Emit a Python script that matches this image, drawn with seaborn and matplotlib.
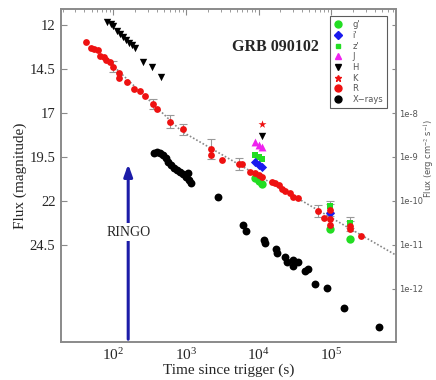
import numpy as np
import pandas as pd
import matplotlib
matplotlib.use("Agg")
import matplotlib.pyplot as plt
from matplotlib.lines import Line2D
from matplotlib.ticker import FixedLocator, NullFormatter, LogLocator, LogFormatterSciNotation
import seaborn as sns

# ---------------- data ----------------
# R band (magnitude)
r_time = [42.6, 49.3, 54.8, 60.8, 66.3, 73.6, 80.2, 88.9, 99, 118, 118, 154, 194, 235, 275,
          351, 399, 608, 910, 2210, 2210, 3130, 5300, 5890, 7660, 8970, 9970, 11100, 15200,
          16900, 18800, 20900, 23200, 27200, 30200, 35400, 66100, 79800, 95100, 95100, 95100,
          182000, 182000, 258000]
r_mag = [12.98, 13.32, 13.36, 13.42, 13.74, 13.84, 13.99, 14.12, 14.37, 14.71, 15.03, 15.22,
         15.65, 15.78, 16.02, 16.49, 16.79, 17.49, 17.93, 19.05, 19.39, 19.67, 19.91, 19.91,
         20.34, 20.43, 20.52, 20.62, 20.90, 20.96, 21.09, 21.32, 21.43, 21.56, 21.79, 21.85,
         22.55, 22.98, 23.02, 22.50, 23.36, 23.42, 23.61, 23.97]
r_err = [0, 0, 0, 0, 0, 0, 0, 0, 0.3, 0, 0, 0, 0, 0, 0, 0.3, 0, 0.35, 0.3, 0.55, 0, 0, 0.35, 0,
         0, 0, 0, 0, 0, 0, 0, 0, 0, 0, 0, 0, 0.35, 0, 0, 0.35, 0, 0.3, 0, 0]

# H band (magnitude)
h_time = [83, 94, 100, 113, 125, 137, 151, 166, 182, 201, 258, 344, 457, 11100]
h_mag = [11.83, 11.94, 12.06, 12.34, 12.51, 12.68, 12.85, 13.02, 13.14, 13.31, 14.10, 14.39,
         14.95, 18.31]

# K, J, i', z', g'
k_time = [11100]
k_mag = [17.63]
j_time = [8970, 9970, 11100]
j_mag = [18.66, 18.82, 18.95]
i_time = [8970, 9970, 11100, 95100]
i_mag = [19.80, 19.95, 20.09, 22.66]
z_time = [8970, 9970, 11100, 95100, 182000]
z_mag = [19.39, 19.48, 19.63, 22.30, 23.23]
z_err = [0, 0, 0, 0.3, 0.3]
g_time = [8970, 9970, 11100, 95100, 182000]
g_mag = [20.71, 20.85, 21.03, 23.61, 24.18]

# X-rays (flux, erg cm^-2 s^-1)
x_time = [366, 403, 443, 488, 536, 571, 628, 690, 759, 836, 918, 1009, 1109, 1183, 1076,
          2780, 6140, 6745, 11940, 12330, 17460, 18030, 23230, 24720, 29920, 29920, 35080,
          43750, 48080, 59980, 87900, 148250, 448700]
x_flux = [1.233e-9, 1.30e-9, 1.233e-9, 1.109e-9, 9.48e-10, 7.69e-10, 6.58e-10, 5.62e-10,
          5.07e-10, 4.56e-10, 4.11e-10, 3.51e-10, 3.00e-10, 2.56e-10, 4.33e-10, 1.23e-10,
          2.85e-11, 2.08e-11, 1.30e-11, 1.11e-11, 8.11e-12, 6.58e-12, 5.33e-12, 4.11e-12,
          4.56e-12, 3.33e-12, 4.11e-12, 2.56e-12, 2.85e-12, 1.30e-12, 1.05e-12, 3.76e-13,
          1.37e-13]

# broken power-law fit (R band)
fit_t0, fit_m0 = 875.0, 18.05
fit_slope1, fit_slope2 = 3.94, 2.38  # mag per decade
fit_tmin, fit_tmax = 80.0, 8.0e5

mag_ticks = [12, 14.5, 17, 19.5, 22, 24.5]
flux_ticks = [1e-8, 1e-9, 1e-10, 1e-11, 1e-12]
flux_tick_labels = ["1e-8", "1e-9", "1e-10", "1e-11", "1e-12"]

ringo_time = 160

# ---------------- style ----------------
sns.set_style("white")
plt.rcParams["font.family"] = ["Liberation Serif", "DejaVu Serif"]
plt.rcParams["mathtext.fontset"] = "stix"

fig = plt.figure(figsize=(4.36, 3.80), dpi=100)
ax = fig.add_axes([61 / 436, 1 - 342 / 380, (396 - 61) / 436, (342 - 9) / 380])
ax.set_xscale("log")
ax.set_xlim(19, 7.8e5)
ax.set_ylim(30.0, 11.1)

frame = "#8a8a8a"
for s in ax.spines.values():
    s.set_color(frame)
    s.set_linewidth(1.2)

# fit line
tt = np.logspace(np.log10(fit_tmin), np.log10(fit_tmax), 200)
lt = np.log10(tt) - np.log10(fit_t0)
mm = np.where(lt < 0, fit_m0 + fit_slope1 * lt, fit_m0 + fit_slope2 * lt)
sns.lineplot(x=tt, y=mm, ax=ax, color="#888888", linestyle=(0, (1, 1.2)), linewidth=1.2,
             zorder=1)

# error bars
r_err_a = np.array(r_err)
msk = r_err_a > 0
ax.errorbar(np.array(r_time)[msk], np.array(r_mag)[msk], yerr=r_err_a[msk], fmt="none",
            ecolor="#999999", elinewidth=0.8, capsize=3, capthick=0.8, zorder=2)
z_err_a = np.array(z_err)
mz = z_err_a > 0
ax.errorbar(np.array(z_time)[mz], np.array(z_mag)[mz], yerr=z_err_a[mz], fmt="none",
            ecolor="#999999", elinewidth=0.8, capsize=3, capthick=0.8, zorder=2)

kw = dict(ax=ax, linewidth=0, legend=False, zorder=3)
sns.scatterplot(x=g_time, y=g_mag, color="#22dd22", marker="o", s=36, **kw)
sns.scatterplot(x=z_time, y=z_mag, color="#22dd22", marker="s", s=20, **kw)
sns.scatterplot(x=i_time, y=i_mag, color="#1a1aee", marker="D", s=22, **kw)
sns.scatterplot(x=j_time, y=j_mag, color="#ee22ee", marker="^", s=32, **kw)
sns.scatterplot(x=h_time, y=h_mag, color="black", marker="v", s=28, **kw)
sns.scatterplot(x=k_time, y=k_mag, color="#ee1111", marker="*", s=36, **kw)
sns.scatterplot(x=r_time, y=r_mag, color="#ee1111", marker="o", s=24, **kw)

ax.set_yticks(mag_ticks)
ax.set_yticklabels([f"{v:g}" for v in mag_ticks])
ax.tick_params(axis="y", which="both", direction="in", length=4, color=frame,
               labelsize=10.5, pad=4, right=False)
ax.xaxis.set_major_locator(LogLocator(base=10, numticks=10))
ax.xaxis.set_minor_locator(LogLocator(base=10, subs=np.arange(2, 10), numticks=20))
ax.xaxis.set_major_formatter(LogFormatterSciNotation())
ax.tick_params(axis="x", which="major", direction="in", length=4, color=frame, top=True,
               labelsize=11, pad=4)
ax.tick_params(axis="x", which="minor", direction="in", length=2, color=frame, top=True)
ax.set_xlabel("Time since trigger (s)", fontsize=11, labelpad=0)
ax.set_ylabel("Flux (magnitude)", fontsize=11, labelpad=2)

# twin axis for X-rays
ax2 = ax.twinx()
ax2.set_yscale("log")
ax2.set_ylim(10 ** -13.205, 10 ** -5.636)
sns.scatterplot(x=x_time, y=x_flux, ax=ax2, color="black", marker="o", s=32, linewidth=0,
                legend=False, zorder=3)
ax2.yaxis.set_major_locator(FixedLocator([1e-6, 1e-7] + flux_ticks))
ax2.yaxis.set_major_formatter(matplotlib.ticker.FixedFormatter(["", ""] + flux_tick_labels))
ax2.yaxis.set_minor_formatter(NullFormatter())
ax2.yaxis.set_minor_locator(FixedLocator([]))
ax2.tick_params(axis="y", direction="in", length=3, color=frame, labelsize=6,
                labelcolor="#555555", pad=2)
for lab in ax2.get_yticklabels():
    lab.set_family(["DejaVu Sans"])
for s in ax2.spines.values():
    s.set_color(frame)
    s.set_linewidth(1.2)
ax2.set_ylabel("")
fig.text(429.5 / 436, 1 - 158 / 380, "Flux (erg cm$^{-2}$ s$^{-1}$)", rotation=90,
         ha="center", va="center", fontsize=6, color="#555555", family=["DejaVu Sans"])
ax2.xaxis.set_visible(False)

# title text
ax.text(0.64, 0.885, "GRB 090102", transform=ax.transAxes, ha="center", va="center",
        fontsize=11.5, fontweight="bold")

# RINGO arrow
ax.annotate("", xy=(ringo_time, 19.75), xytext=(ringo_time, 30.0),
            arrowprops=dict(arrowstyle="-|>,head_width=0.25,head_length=0.7",
                            color="#1c1ca8", lw=2.2), zorder=4)
ax.text(ringo_time, 23.76, "RINGO", ha="center", va="center", fontsize=10,
        bbox=dict(facecolor="white", edgecolor="none", pad=1.5), zorder=5)

# legend
handles = [
    Line2D([], [], marker="o", color="#22dd22", linestyle="none", markersize=5),
    Line2D([], [], marker="D", color="#1a1aee", linestyle="none", markersize=4),
    Line2D([], [], marker="s", color="#22dd22", linestyle="none", markersize=3.5),
    Line2D([], [], marker="^", color="#ee22ee", linestyle="none", markersize=5),
    Line2D([], [], marker="v", color="black", linestyle="none", markersize=5),
    Line2D([], [], marker="*", color="#ee1111", linestyle="none", markersize=5),
    Line2D([], [], marker="o", color="#ee1111", linestyle="none", markersize=5),
    Line2D([], [], marker="o", color="black", linestyle="none", markersize=5),
]
labels = ["g'", "i'", "z'", "J", "H", "K", "R", "X\u2212rays"]
leg = ax2.legend(handles, labels, loc="upper right", bbox_to_anchor=(0.985, 0.99),
                 fontsize=6, frameon=True, fancybox=False, edgecolor="#333333",
                 handlelength=1.0, handletextpad=1.2, labelspacing=0.2, borderpad=0.45,
                 prop={"family": "DejaVu Sans", "size": 6})
leg.get_frame().set_linewidth(0.8)
for t in leg.get_texts():
    t.set_color("#555555")

fig.savefig("out.png", dpi=100)
